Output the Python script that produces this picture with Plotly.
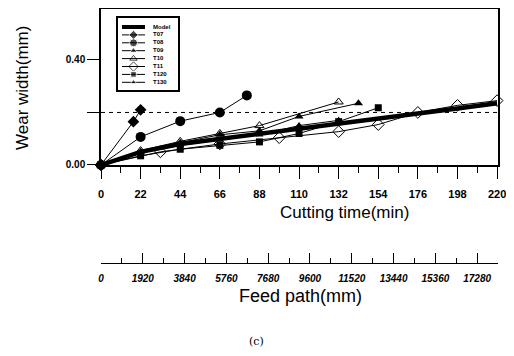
import plotly.graph_objects as go

# ---------------- data ----------------
model_t = [0, 22, 44, 66, 88, 110, 132, 154, 176, 198, 220]
model_w = [0, 0.05, 0.08, 0.10, 0.12, 0.14, 0.158, 0.177, 0.196, 0.215, 0.235]

diam_f_t = [0, 18, 22]
diam_f_w = [0, 0.165, 0.21]

circ_t = [0, 22, 44, 66, 81]
circ_w = [0, 0.107, 0.167, 0.20, 0.265]

tri_f_t = [0, 22, 44, 66, 88, 110, 143]
tri_f_w = [0, 0.05, 0.085, 0.115, 0.13, 0.185, 0.235]

tri_o_t = [0, 22, 44, 66, 88, 132]
tri_o_w = [0, 0.055, 0.09, 0.12, 0.15, 0.24]

diam_o_t = [0, 33, 66, 99, 132, 154, 176, 198, 220]
diam_o_w = [0, 0.05, 0.08, 0.104, 0.127, 0.154, 0.20, 0.227, 0.245]

sq_t = [0, 22, 44, 66, 88, 110, 132, 154]
sq_w = [0, 0.035, 0.06, 0.075, 0.088, 0.12, 0.165, 0.218]

tri_s_t = [0, 22, 44, 66, 88, 110, 132]
tri_s_w = [0, 0.045, 0.075, 0.095, 0.115, 0.15, 0.17]

threshold_w = 0.20

time_ticks = [0, 22, 44, 66, 88, 110, 132, 154, 176, 198, 220]
wear_ticks = [0, 0.2, 0.4, 0.6]
wear_ticktext = ["0.00", "", "0.40", ""]
feed_ticks = [0, 1920, 3840, 5760, 7680, 9600, 11520, 13440, 15360, 17280]
feed_ticktext = [str(v) for v in feed_ticks]

legend_names = ["Model", "T07", "T08", "T09", "T10", "T11", "T120", "T130"]

# ---------------- figure ----------------
OFF = 8  # page body margin
W, H = 514 - OFF, 356 - OFF
L, R, T, B = 101 - OFF, 16, 0, 0
PW, PH = W - L - R, H - T - B


def px(x):
    """screen x -> paper x"""
    return (x - OFF - L) / PW


def py(y):
    """screen y -> paper y"""
    return (H - B - (y - OFF)) / PH


fig = go.Figure()

series = [
    (model_t, model_w, dict(symbol="circle", size=0, color="black"), 4.5),
    (diam_f_t, diam_f_w, dict(symbol="diamond", size=9, color="black"), 1),
    (circ_t, circ_w, dict(symbol="circle", size=10, color="black"), 1),
    (tri_f_t, tri_f_w, dict(symbol="triangle-up", size=8, color="black"), 1),
    (tri_o_t, tri_o_w, dict(symbol="triangle-up-open", size=8, color="black",
                            line=dict(width=1, color="black")), 1),
    (diam_o_t, diam_o_w, dict(symbol="diamond-open", size=9, color="black",
                              line=dict(width=1, color="black")), 1),
    (sq_t, sq_w, dict(symbol="square", size=7, color="black"), 1),
    (tri_s_t, tri_s_w, dict(symbol="triangle-up", size=7, color="black"), 1),
]

# reference line
fig.add_trace(go.Scatter(x=[0, 220], y=[threshold_w, threshold_w], mode="lines",
                         line=dict(color="black", width=1, dash="4px,4px"),
                         showlegend=False, hoverinfo="skip"))

for i, (t, w, mk, lw) in enumerate(series):
    mode = "lines" if i == 0 else "lines+markers"
    fig.add_trace(go.Scatter(x=t, y=w, mode=mode, marker=mk,
                             line=dict(color="black", width=lw),
                             cliponaxis=False, showlegend=False,
                             name=legend_names[i]))

# invisible trace for feed-path axis
fig.add_trace(go.Scatter(x=[0, 17280], y=[0, 0], xaxis="x2", yaxis="y",
                         mode="markers", marker=dict(opacity=0),
                         showlegend=False, hoverinfo="skip"))

# custom legend in its own small subplot
for i, (t, w, mk, lw) in enumerate(series):
    row = 9 + i * 7.9
    mk2 = dict(mk)
    if i == 0:
        sizes = [0, 0, 0]
    else:
        s = mk.get("size", 7) * 0.8
        sizes = [0, s, 0]
    mk2["size"] = sizes
    fig.add_trace(go.Scatter(x=[4, 15.5, 27], y=[row, row, row],
                             mode="lines+markers", marker=mk2,
                             line=dict(color="black", width=4 if i == 0 else 1),
                             xaxis="x3", yaxis="y3", showlegend=False,
                             hoverinfo="skip"))
    fig.add_trace(go.Scatter(x=[35], y=[row], mode="text", text=[legend_names[i]],
                             textposition="middle right",
                             textfont=dict(size=6, color="black",
                                           family="Liberation Sans",
                                           weight="bold"),
                             xaxis="x3", yaxis="y3", showlegend=False,
                             hoverinfo="skip"))

fnt = "Liberation Sans, Arial, sans-serif"


def label(text, x, y, size, family=fnt, angle=0):
    return dict(text=text, x=px(x), y=py(y), xref="paper", yref="paper",
                xanchor="center", yanchor="middle", showarrow=False,
                textangle=angle, font=dict(size=size, family=family))


fig.update_layout(
    width=W, height=H,
    margin=dict(l=L, r=R, t=T, b=B, pad=0, autoexpand=False),
    showlegend=False,
    paper_bgcolor="white", plot_bgcolor="white",
    font=dict(family=fnt, color="black"),
    xaxis=dict(range=[0, 220.5], domain=[0, 1], anchor="y", automargin=False,
               tickvals=time_ticks, ticks="outside", ticklen=12, tickwidth=1,
               tickcolor="black", ticklabelstandoff=6,
               minor=dict(dtick=11, tick0=0, ticks="outside", ticklen=6,
                          tickcolor="black"),
               showline=True, linecolor="black", linewidth=2, mirror=True,
               showgrid=False, zeroline=False,
               tickfont=dict(size=11, family=fnt, weight="bold")),
    yaxis=dict(range=[0, 0.595], domain=[py(165), 0.998], anchor="x",
               automargin=False,
               tickvals=wear_ticks, ticktext=wear_ticktext,
               ticks="outside", ticklen=12, tickcolor="black",
               showline=True, linecolor="black", linewidth=1.5, mirror=True,
               showgrid=False, zeroline=False,
               tickfont=dict(size=10, family=fnt, weight="bold")),
    xaxis2=dict(range=[0, 18238], domain=[px(104), px(483)], anchor="free",
                position=py(263), overlaying="x", automargin=False,
                tickvals=feed_ticks, ticktext=feed_ticktext,
                ticks="inside", ticklen=10, tickcolor="black",
                minor=dict(dtick=960, tick0=0, ticks="inside", ticklen=5,
                           tickcolor="black"),
                showline=True, linecolor="black", linewidth=1,
                showgrid=False, zeroline=False, ticklabelstandoff=6,
                tickfont=dict(size=10, family=fnt, style="italic",
                              weight="bold")),
    xaxis3=dict(range=[0, 60], domain=[px(118), px(178)], anchor="y3",
                showline=True, linecolor="black", linewidth=1.5, mirror=True,
                showticklabels=False, ticks="", showgrid=False,
                zeroline=False, fixedrange=True),
    yaxis3=dict(range=[72, 0], domain=[py(90), py(18)], anchor="x3",
                showline=True, linecolor="black", linewidth=1.5, mirror=True,
                showticklabels=False, ticks="", showgrid=False,
                zeroline=False, fixedrange=True),
    annotations=[
        label("Cutting time(min)", 344, 212, 17),
        label("Feed path(mm)", 300, 296, 18),
        label("Wear width(mm)", 22, 88, 17, angle=-90),
        label("(c)", 256, 341, 11, family="DejaVu Serif"),
    ],
)

fig.write_html("out.html")
